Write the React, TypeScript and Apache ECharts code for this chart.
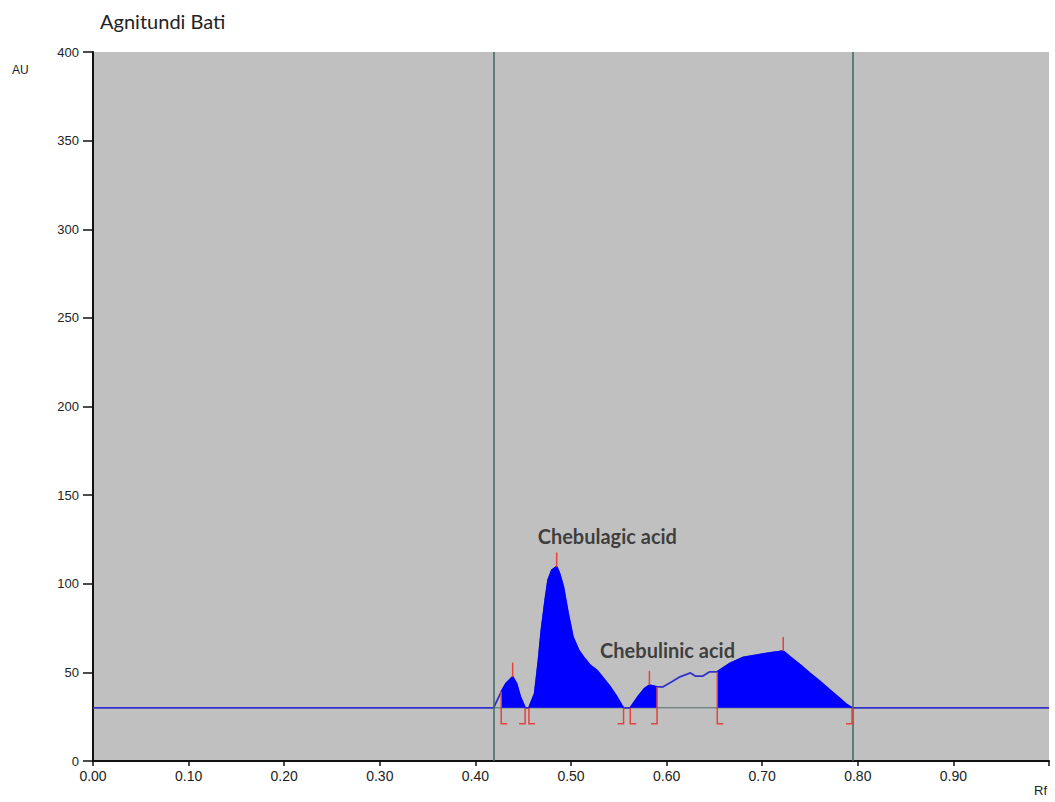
import React, { useEffect, useRef } from "react";
import * as echarts from "echarts";

// Densitogram signal (Rf vs AU)
const rf = [0, 0.419, 0.427, 0.432, 0.439, 0.443, 0.447, 0.452, 0.456, 0.462, 0.466, 0.469, 0.473, 0.476, 0.480, 0.485, 0.488, 0.492, 0.497, 0.502, 0.508, 0.513, 0.520, 0.527, 0.534, 0.541, 0.548, 0.553, 0.555, 0.562, 0.570, 0.577, 0.582, 0.590, 0.596, 0.605, 0.614, 0.625, 0.630, 0.638, 0.645, 0.653, 0.666, 0.680, 0.694, 0.708, 0.722, 0.729, 0.740, 0.750, 0.761, 0.771, 0.781, 0.788, 0.794, 1.0];
const au = [30, 30, 39, 43.7, 47.5, 43.7, 36.2, 30, 30, 38, 56.9, 73.8, 90.8, 102.1, 107.7, 109.6, 105.8, 98.3, 83.2, 70, 62.5, 58.7, 54, 51.2, 46.5, 41.8, 36.2, 31.5, 30, 30, 36.2, 40.9, 42.8, 41.8, 41.8, 44.6, 47.5, 49.7, 47.9, 47.9, 50.3, 50.3, 55, 58.4, 59.7, 61, 62, 58.8, 54.1, 49.4, 44.6, 39.9, 35.3, 32, 30, 30];

// Integrated peaks (start/end Rf) and apex Rf
const peakStart = [0.427, 0.456, 0.562, 0.653];
const peakEnd = [0.452, 0.555, 0.590, 0.794];
const peakApex = [0.439, 0.485, 0.582, 0.722];

// Baseline and track limits
const baselineAU = 30;
const trackLimits = [0.419, 0.795];

// Compound annotations
const compoundNames = ["Chebulagic acid", "Chebulinic acid"];
const compoundRf = [0.538, 0.601];
const compoundAU = [127, 62.5];

// Axis ticks
const yTicks = [0, 50, 100, 150, 200, 250, 300, 350, 400];
const xTickLabels = ["0.00", "0.10", "0.20", "0.30", "0.40", "0.50", "0.60", "0.70", "0.80", "0.90"];

const RED = "#e2433a";
const FILL = "#0000ff";
const LINE = "#3030cc";

function signalAt(x: number): number {
  const i = rf.indexOf(x);
  return i >= 0 ? au[i] : baselineAU;
}

export default function App() {
  const ref = useRef<HTMLDivElement>(null);
  useEffect(() => {
    if (!ref.current) return;
    const chart = echarts.init(ref.current, null, { renderer: "svg" });
    const signal = rf.map((x, i) => [x, au[i]]);
    const fills = peakStart.map((s, k) => ({
      type: "line",
      data: signal.filter((p) => p[0] >= s && p[0] <= peakEnd[k]),
      symbol: "none",
      lineStyle: { color: FILL, width: 1.5 },
      areaStyle: { color: FILL, opacity: 1, origin: baselineAU },
      z: 3,
      silent: true,
    }));
    const markers: number[][] = [];
    peakStart.forEach((s) => markers.push([s, signalAt(s), 0]));
    peakEnd.forEach((e) => markers.push([e, signalAt(e), 1]));
    peakApex.forEach((a) => markers.push([a, signalAt(a), 2]));

    chart.setOption({
      animation: false,
      grid: {
        left: 93,
        top: 52,
        right: 6,
        bottom: 41,
        show: true,
        backgroundColor: "#c0c0c0",
        borderWidth: 0,
      },
      graphic: [
        {
          type: "text",
          left: 100,
          top: 11,
          style: { text: "Agnitundi Bati", fontFamily: "Lato", fontSize: 20, fill: "#222" },
        },
        {
          type: "text",
          left: 12,
          top: 64,
          style: { text: "AU", fontFamily: "Liberation Sans", fontSize: 12, fill: "#222" },
        },
        {
          type: "text",
          left: 1034,
          top: 784,
          style: { text: "Rf", fontFamily: "Liberation Sans", fontSize: 13, fill: "#222" },
        },
      ],
      xAxis: {
        type: "value",
        min: 0,
        max: 1,
        interval: 0.1,
        axisLine: { show: true, lineStyle: { color: "#111", width: 2 } },
        axisTick: { show: true, length: 5, lineStyle: { color: "#111", width: 1.5 } },
        axisLabel: {
          fontFamily: "Liberation Sans",
          fontSize: 14,
          color: "#222",
          margin: 8,
          formatter: (v: number) => {
            const i = Math.round(v * 10);
            return i < xTickLabels.length ? xTickLabels[i] : "";
          },
        },
        splitLine: { show: false },
      },
      yAxis: {
        type: "value",
        min: yTicks[0],
        max: yTicks[yTicks.length - 1],
        interval: 50,
        axisLine: { show: true, lineStyle: { color: "#111", width: 2 } },
        axisTick: { show: true, length: 10, lineStyle: { color: "#111", width: 1.5 } },
        axisLabel: { fontFamily: "Liberation Sans", fontSize: 13, color: "#222", margin: 14 },
        splitLine: { show: false },
      },
      series: [
        {
          type: "line",
          data: [
            [trackLimits[0], baselineAU],
            [trackLimits[1], baselineAU],
          ],
          symbol: "none",
          lineStyle: { color: "#4d6e68", width: 1 },
          z: 1,
          silent: true,
          markLine: {
            symbol: "none",
            silent: true,
            precision: 4,
            label: { show: false },
            lineStyle: { color: "#3a6a60", width: 1.5, type: "solid" },
            data: trackLimits.map((x) => ({ xAxis: x })),
          },
        },
        {
          type: "line",
          data: signal,
          symbol: "none",
          lineStyle: { color: LINE, width: 1.8 },
          z: 2,
          silent: true,
        },
        ...fills,
        {
          type: "custom",
          data: markers,
          z: 5,
          silent: true,
          encode: { x: 0, y: 1 },
          renderItem: (params: any, api: any) => {
            const x = api.value(0);
            const top = api.value(1);
            const kind = api.value(2);
            const p = api.coord([x, top]);
            const style = { stroke: RED, lineWidth: 1.5, fill: "none" };
            if (kind === 2) {
              const q = api.coord([x, top + 8]);
              return { type: "line", shape: { x1: p[0], y1: p[1], x2: q[0], y2: q[1] }, style };
            }
            const b = api.coord([x, 21]);
            const dir = kind === 0 ? 1 : -1;
            return {
              type: "polyline",
              shape: { points: [p, b, [b[0] + dir * 6, b[1]]] },
              style,
            };
          },
        },
        {
          type: "scatter",
          data: compoundNames.map((n, i) => ({ name: n, value: [compoundRf[i], compoundAU[i]] })),
          symbolSize: 0,
          z: 6,
          silent: true,
          label: {
            show: true,
            position: "inside",
            formatter: (p: any) => p.name,
            fontFamily: "Lato",
            fontWeight: "bold",
            fontSize: 20,
            color: "#1a1a1a",
          },
        },
      ],
    });
    return () => chart.dispose();
  }, []);
  return (
    <div
      ref={ref}
      style={{ position: "fixed", left: 0, top: 0, width: 1055, height: 802, background: "#fff" }}
    />
  );
}
